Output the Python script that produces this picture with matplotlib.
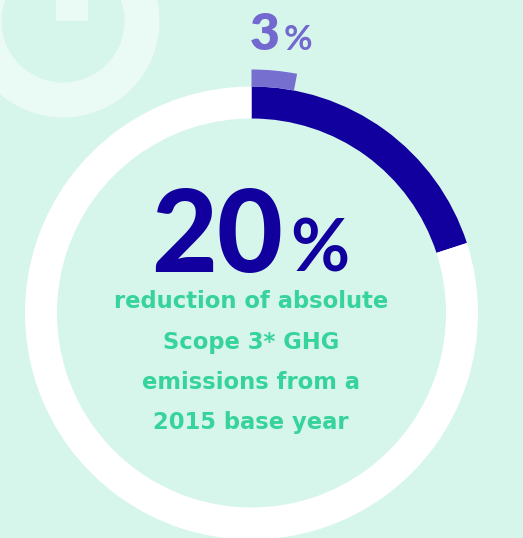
import matplotlib
matplotlib.use("Agg")
import matplotlib.pyplot as plt
from matplotlib.patches import Wedge, Rectangle

# data
main_value = 20        # % reduction, dark ring
extra_value = 3        # % small purple marker
main_label = "20"
extra_label = "3"
caption = ["reduction of absolute", "Scope 3* GHG", "emissions from a", "2015 base year"]

# colours
bg = "#d6f5eb"
deco = "#eafaf5"
navy = "#12009e"
purple = "#7268cf"
green = "#37d39c"

W, H = 523, 538
fig = plt.figure(figsize=(W / 100, H / 100), dpi=100, facecolor=bg)
ax = fig.add_axes([0, 0, 1, 1])
ax.set_facecolor(bg)

# decorative power-icon ring in the corner
ax.add_patch(Wedge((63, H - 21), 96.5, 0, 360, width=35, color=deco, lw=0))
ax.add_patch(Rectangle((56, H - 21), 32, 25, color=deco, lw=0))

# donut
cx, cy = 251.5, H - 313
r_out, width = 226.5, 32
ax.pie([main_value, 100 - main_value], colors=[navy, "white"],
       startangle=90, counterclock=False, radius=r_out, center=(cx, cy),
       wedgeprops=dict(width=width, linewidth=0), frame=True)
ax.pie([extra_value, 100 - extra_value], colors=[purple, "none"],
       startangle=90, counterclock=False, radius=r_out + 17, center=(cx, cy),
       wedgeprops=dict(width=17, linewidth=0, alpha=0.95), frame=True)
ax.set_xlim(0, W)
ax.set_ylim(0, H)
ax.set_aspect("auto")
ax.axis("off")

# top "3%"
ax.text(280, H - 50, extra_label, ha="right", va="baseline", fontsize=37,
        fontweight="heavy", color=purple, family="Lato")
ax.text(284, H - 50, "%", ha="left", va="baseline", fontsize=25,
        fontweight="bold", color=purple, family="Lato")

# big "20%"
ax.text(283, H - 272, main_label, ha="right", va="baseline", fontsize=82,
        fontweight="black", color=navy, family="Lato")
ax.text(290, H - 272, "%", ha="left", va="baseline", fontsize=52,
        fontweight="bold", color=navy, family="Lato")

# caption lines
for i, line in enumerate(caption):
    ax.text(251, H - 308 - 40.5 * i, line, ha="center", va="baseline",
            fontsize=16.3, fontweight="bold", color=green, family="DejaVu Sans")

fig.savefig("out.png", dpi=100, facecolor=bg)
